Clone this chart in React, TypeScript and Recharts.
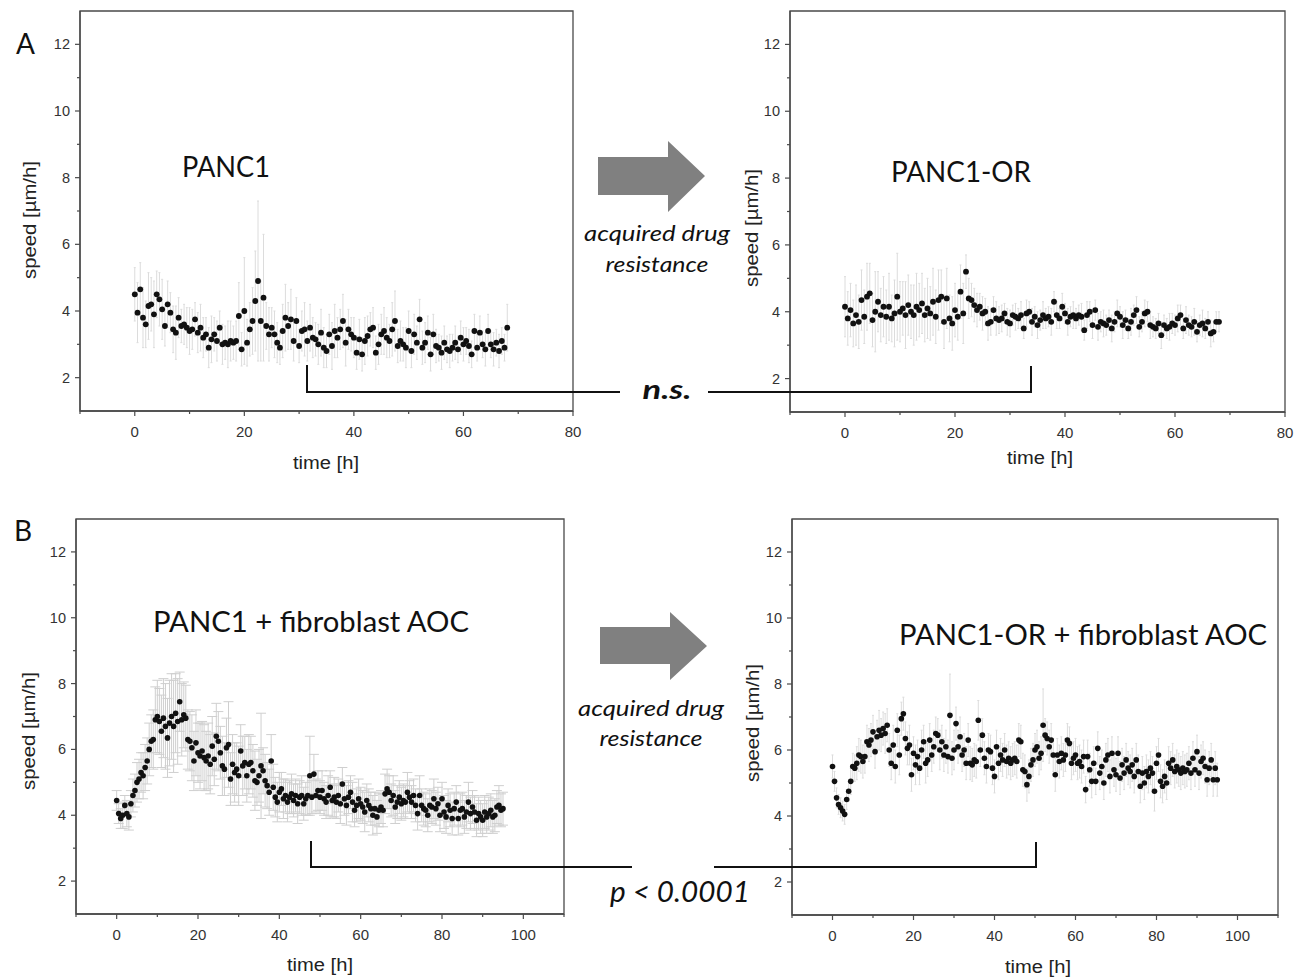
import React from 'react';
import { ScatterChart, Scatter, XAxis, YAxis, ErrorBar, ReferenceArea } from 'recharts';

// sampling interval of the time-lapse (hours)
const STEP_H = 0.5;

// ---- Panel A, left: PANC1 (t = 0 … 68 h) ----
const panc1Speed = [
  4.5, 3.95, 4.65, 3.8, 3.6, 4.15, 4.2, 3.9, 4.5, 4.35,
  4.05, 3.55, 4.2, 3.95, 3.45, 3.35, 3.8, 3.55, 3.6, 3.5,
  3.4, 3.45, 3.75, 3.35, 3.5, 3.2, 3.3, 2.9, 3.15, 3.3,
  3.1, 3.5, 3.0, 3.05, 3.0, 3.1, 3.05, 3.1, 3.85, 2.85,
  4.0, 3.05, 3.45, 3.7, 4.3, 4.9, 3.7, 4.4, 3.55, 3.3,
  3.5, 3.3, 3.05, 2.9, 3.4, 3.8, 3.55, 3.75, 3.1, 3.7,
  2.95, 3.4, 3.45, 3.1, 3.5, 3.2, 3.15, 3.0, 3.35, 2.9,
  2.8, 3.3, 2.95, 3.4, 3.2, 3.45, 3.7, 3.05, 3.45, 3.3,
  3.2, 2.75, 3.15, 2.7, 3.1, 3.25, 3.45, 3.5, 2.75, 3.0,
  3.3, 3.4, 3.2, 3.1, 3.45, 3.7, 2.95, 3.1, 3.0, 2.9,
  3.4, 2.8, 3.3, 3.05, 3.75, 2.9, 3.05, 3.35, 2.7, 3.3,
  2.95, 2.9, 2.75, 3.05, 2.85, 2.8, 2.9, 3.05, 2.85, 3.2,
  3.0, 3.1, 2.95, 2.7, 3.4, 2.9, 3.35, 3.0, 2.85, 3.4,
  3.0, 2.85, 3.05, 2.8, 3.1, 2.9, 3.5,
];
const panc1Err = [
  0.8, 0.9, 0.8, 0.9, 0.7, 1.0, 0.8, 1.0, 0.7, 0.8,
  0.9, 0.6, 0.7, 0.6, 0.7, 0.8, 0.6, 0.5, 0.6, 0.6,
  0.7, 0.6, 0.5, 0.6, 0.7, 0.6, 0.5, 0.6, 0.7, 0.5,
  0.6, 0.5, 0.6, 0.5, 0.7, 0.6, 0.5, 0.6, 1.0, 0.5,
  1.6, 0.7, 0.8, 1.0, 1.5, 2.4, 1.2, 1.9, 0.7, 0.8,
  0.6, 0.7, 0.6, 0.5, 0.8, 1.0, 0.7, 0.9, 0.6, 0.7,
  0.5, 0.6, 0.8, 0.6, 0.7, 0.6, 0.5, 0.6, 0.7, 0.6,
  0.5, 0.6, 0.7, 0.8, 0.6, 0.6, 0.8, 0.7, 0.6, 0.5,
  0.6, 0.5, 0.6, 0.5, 0.7, 0.6, 0.5, 0.6, 0.5, 0.6,
  0.6, 0.7, 0.6, 0.5, 0.8, 0.9, 0.5, 0.6, 0.5, 0.6,
  0.6, 0.5, 0.6, 0.5, 0.6, 0.5, 0.6, 0.5, 0.5, 0.6,
  0.5, 0.4, 0.5, 0.5, 0.4, 0.5, 0.4, 0.5, 0.4, 0.5,
  0.5, 0.4, 0.5, 0.4, 0.5, 0.4, 0.5, 0.4, 0.5, 0.5,
  0.4, 0.5, 0.4, 0.5, 0.4, 0.4, 0.7,
];

// ---- Panel A, right: PANC1-OR (t = 0 … 68 h) ----
const panc1orSpeed = [
  4.15, 3.8, 4.05, 3.65, 3.9, 3.7, 4.35, 3.85, 4.45, 4.55,
  3.75, 4.0, 4.3, 3.9, 4.15, 3.85, 4.15, 3.8, 3.95, 4.45,
  4.0, 4.1, 3.9, 4.2, 4.0, 3.9, 4.15, 4.05, 4.25, 3.9,
  4.1, 3.95, 4.3, 3.85, 4.35, 4.45, 3.7, 4.4, 3.8, 3.65,
  4.05, 3.85, 4.6, 3.95, 5.2, 4.4, 4.35, 4.2, 4.05, 4.15,
  3.95, 4.0, 3.65, 3.7, 4.05, 3.8, 3.75, 3.8, 3.95, 3.7,
  3.65, 3.9, 3.85, 3.8, 3.9, 3.5, 3.95, 4.0, 3.7, 3.85,
  3.6, 3.75, 3.9, 3.8, 3.85, 3.7, 4.3, 3.9, 3.8, 4.15,
  3.95, 3.7, 3.85, 3.9, 3.8, 3.9, 3.85, 3.45, 3.9, 4.0,
  3.6, 4.05, 3.55, 3.7, 3.65, 3.6, 3.75, 3.5, 3.7, 3.95,
  3.85, 3.6, 3.75, 3.5, 3.7, 3.9, 4.05, 3.55, 3.7, 3.95,
  4.0, 3.6, 3.55, 3.5, 3.65, 3.3, 3.6, 3.5, 3.55, 3.65,
  3.6, 3.8, 3.9, 3.5, 3.75, 3.6, 3.55, 3.7, 3.4, 3.6,
  3.65, 3.5, 3.7, 3.35, 3.4, 3.7, 3.7,
];
const panc1orErr = [
  0.9, 0.8, 0.8, 0.7, 0.9, 0.8, 0.9, 0.8, 1.0, 0.9,
  0.8, 1.2, 0.9, 0.8, 0.9, 0.8, 1.0, 0.7, 1.0, 1.3,
  0.9, 0.8, 1.0, 0.9, 0.8, 0.9, 1.0, 0.8, 0.9, 0.8,
  0.9, 0.8, 1.0, 0.8, 0.9, 0.8, 0.8, 0.9, 0.7, 0.8,
  0.8, 0.7, 0.8, 0.9, 0.5, 0.6, 0.5, 0.5, 0.5, 0.4,
  0.5, 0.4, 0.5, 0.4, 0.4, 0.5, 0.4, 0.4, 0.3, 0.4,
  0.4, 0.3, 0.4, 0.3, 0.4, 0.3, 0.4, 0.3, 0.4, 0.3,
  0.4, 0.3, 0.4, 0.3, 0.3, 0.4, 0.3, 0.4, 0.3, 0.4,
  0.3, 0.4, 0.3, 0.4, 0.3, 0.3, 0.4, 0.3, 0.4, 0.3,
  0.4, 0.3, 0.4, 0.3, 0.4, 0.3, 0.3, 0.4, 0.3, 0.4,
  0.3, 0.4, 0.3, 0.3, 0.4, 0.3, 0.4, 0.3, 0.3, 0.4,
  0.3, 0.4, 0.3, 0.3, 0.3, 0.4, 0.3, 0.3, 0.4, 0.3,
  0.3, 0.4, 0.3, 0.3, 0.4, 0.3, 0.3, 0.4, 0.3, 0.3,
  0.4, 0.3, 0.3, 0.4, 0.3, 0.3, 0.3,
];

// ---- Panel B, left: PANC1 + fibroblast AOC (t = 0 … 95 h) ----
const panc1AocSpeed = [
  4.45, 4.05, 3.9, 4.0, 4.3, 4.05, 3.95, 4.35, 4.6, 4.75,
  5.0, 5.1, 5.3, 5.2, 5.45, 5.65, 6.0, 6.25, 6.3, 6.9,
  7.0, 6.85, 6.55, 6.95, 6.7, 6.35, 6.8, 7.0, 6.7, 7.1,
  6.85, 7.45, 6.9, 7.05, 6.95, 6.3, 6.25, 6.05, 5.65, 6.2,
  5.9, 5.8, 5.95, 5.75, 5.65, 5.8, 5.55, 6.1, 5.7, 6.4,
  6.25, 5.9, 5.5, 5.4, 6.05, 6.15, 5.1, 5.55, 5.3, 5.4,
  5.2, 5.95, 5.5, 5.6, 5.2, 5.55, 5.6, 5.35, 5.05, 5.0,
  5.2, 5.5, 5.35, 5.05, 4.9, 4.7, 5.65, 4.85, 4.55, 4.4,
  4.7, 4.8, 4.5, 4.6, 4.4, 4.55, 4.65, 4.45, 4.6, 4.35,
  4.55, 4.6, 4.35, 4.5, 4.6, 5.2, 4.55, 5.25, 4.6, 4.75,
  4.55, 4.75, 4.5, 4.4, 4.6, 4.85, 4.45, 4.55, 4.4, 4.6,
  4.35, 4.95, 4.5, 4.3, 4.55, 4.7, 4.4, 4.15, 4.3, 4.5,
  4.35, 4.25, 4.1, 4.45, 4.3, 4.2, 4.0, 4.2, 3.95, 4.15,
  4.25, 4.15, 4.65, 4.8, 4.7, 4.45, 4.6, 4.25, 4.4, 4.55,
  4.35, 4.45, 4.4, 4.7, 4.55, 4.4, 4.6, 4.3, 4.05, 4.6,
  4.3, 4.2, 4.15, 4.0, 4.3, 4.25, 4.5, 4.2, 4.35, 4.0,
  4.5, 4.1, 3.95, 4.3, 4.15, 3.9, 4.2, 4.4, 3.9, 4.15,
  4.2, 3.95, 4.1, 4.4, 4.05, 4.25, 4.1, 3.85, 4.05, 3.95,
  3.85, 4.1, 3.95, 4.05, 4.15, 3.95, 4.0, 4.25, 4.3, 4.15,
  4.2,
];
const panc1AocErr = [
  0.3, 0.3, 0.3, 0.4, 0.3, 0.4, 0.4, 0.4, 0.5, 0.5,
  0.6, 0.6, 0.6, 0.7, 0.7, 0.7, 0.8, 0.8, 0.9, 1.0,
  1.1, 1.0, 1.1, 1.2, 1.3, 1.2, 1.3, 1.3, 1.4, 1.2,
  1.3, 0.9, 1.1, 1.0, 1.0, 0.9, 0.9, 1.0, 0.9, 1.0,
  0.9, 1.0, 0.9, 1.0, 0.9, 1.0, 0.9, 0.9, 0.8, 1.0,
  0.9, 0.8, 0.9, 0.8, 0.9, 1.3, 0.8, 0.9, 0.9, 0.8,
  0.9, 0.8, 0.9, 0.8, 0.8, 0.9, 0.8, 0.8, 0.9, 0.7,
  0.8, 1.6, 0.7, 0.8, 0.7, 0.7, 0.8, 0.7, 0.6, 0.6,
  0.6, 0.5, 0.6, 0.5, 0.6, 0.5, 0.6, 0.5, 0.5, 0.6,
  0.5, 0.6, 0.5, 0.5, 0.6, 1.2, 0.5, 0.6, 0.5, 0.6,
  0.5, 0.6, 0.5, 0.5, 0.6, 0.5, 0.5, 0.6, 0.5, 0.5,
  0.6, 0.5, 0.5, 0.6, 0.5, 0.5, 0.6, 0.5, 0.5, 0.6,
  0.5, 0.5, 0.6, 0.5, 0.5, 0.5, 0.6, 0.5, 0.5, 0.5,
  0.5, 0.5, 0.6, 0.6, 0.5, 0.5, 0.6, 0.5, 0.5, 0.5,
  0.5, 0.5, 0.5, 0.6, 0.5, 0.5, 0.5, 0.5, 0.5, 0.6,
  0.5, 0.5, 0.5, 0.5, 0.5, 0.5, 0.6, 0.5, 0.5, 0.5,
  0.5, 0.5, 0.5, 0.5, 0.5, 0.5, 0.5, 0.5, 0.5, 0.5,
  0.5, 0.5, 0.5, 0.6, 0.5, 0.5, 0.5, 0.5, 0.5, 0.5,
  0.5, 0.5, 0.5, 0.5, 0.5, 0.5, 0.5, 0.5, 0.6, 0.5,
  0.5,
];

// ---- Panel B, right: PANC1-OR + fibroblast AOC (t = 0 … 95 h) ----
const panc1orAocSpeed = [
  5.5, 5.05, 4.55, 4.35, 4.25, 4.15, 4.05, 4.5, 4.75, 5.05,
  5.5, 5.45, 5.6, 5.85, 5.8, 5.65, 5.8, 6.25, 6.15, 6.3,
  6.55, 5.95, 6.4, 6.6, 6.45, 6.65, 6.5, 6.75, 6.0, 5.6,
  6.15, 5.5, 6.6, 5.85, 6.95, 7.1, 6.35, 6.05, 6.15, 5.25,
  5.9, 5.55, 5.8, 5.45, 6.0, 6.25, 5.6, 5.7, 6.3, 5.85,
  6.1, 6.5, 6.45, 6.0, 6.25, 5.85, 6.1, 5.8, 7.05, 5.75,
  6.0, 6.8, 6.1, 6.4, 5.85, 6.0, 5.6, 6.3, 5.6, 5.55,
  5.7, 5.65, 6.9, 6.0, 6.45, 5.75, 5.5, 6.0, 5.95, 5.45,
  5.2, 6.1, 5.6, 5.85, 5.7, 6.0, 5.65, 5.75, 5.6, 5.7,
  5.75, 5.65, 6.3, 6.25, 5.4, 5.35, 4.95, 5.2, 5.55, 5.7,
  6.0, 6.1, 5.75, 5.9, 6.75, 6.45, 6.35, 6.1, 6.3, 5.85,
  5.25, 5.85, 5.65, 5.9, 5.7, 5.85, 6.3, 6.2, 5.6, 5.75,
  5.85, 5.6, 5.65, 5.5, 5.8, 4.8, 5.8, 5.4, 5.05, 5.6,
  5.05, 6.05, 5.3, 5.5, 5.0, 5.7, 5.85, 5.2, 5.9, 5.4,
  5.25, 5.9, 5.15, 5.55, 5.3, 5.7, 5.45, 5.35, 5.55, 5.2,
  5.7, 5.35, 4.9, 5.3, 5.0, 5.35, 5.2, 5.45, 5.3, 4.75,
  5.6, 5.85, 5.05, 4.9, 5.2, 5.0, 5.6, 5.45, 5.7, 5.35,
  5.5, 5.4, 5.3, 5.45, 5.35, 5.4, 5.6, 5.3, 5.75, 5.4,
  5.95, 5.3, 5.65, 5.75, 5.5, 5.1, 5.45, 5.7, 5.1, 5.45,
  5.1,
];
const panc1orAocErr = [
  0.35, 0.3, 0.3, 0.3, 0.3, 0.3, 0.3, 0.3, 0.3, 0.4,
  0.4, 0.4, 0.5, 0.5, 0.5, 0.5, 0.5, 0.5, 0.5, 0.5,
  0.5, 0.5, 0.5, 0.6, 0.5, 0.5, 0.6, 0.5, 0.5, 0.5,
  0.6, 0.5, 0.5, 0.6, 0.5, 0.5, 0.5, 0.5, 0.6, 0.5,
  0.5, 0.6, 0.5, 0.5, 0.6, 0.5, 0.6, 0.5, 0.5, 0.5,
  0.5, 0.5, 0.5, 0.6, 0.5, 0.5, 0.5, 0.5, 1.25, 0.5,
  0.6, 0.5, 0.5, 0.6, 0.5, 0.5, 0.5, 0.5, 0.5, 0.5,
  0.5, 0.5, 0.6, 0.5, 0.5, 0.5, 0.5, 0.5, 0.5, 0.5,
  0.5, 0.5, 0.5, 0.5, 0.5, 0.5, 0.5, 0.5, 0.5, 0.5,
  0.5, 0.5, 0.5, 0.5, 0.5, 0.5, 0.5, 0.5, 0.5, 0.5,
  0.5, 0.5, 0.5, 0.5, 1.1, 0.5, 0.5, 0.5, 0.5, 0.5,
  0.5, 0.5, 0.5, 0.5, 0.5, 0.5, 0.5, 0.5, 0.5, 0.5,
  0.5, 0.5, 0.5, 0.5, 0.5, 0.4, 0.5, 0.5, 0.5, 0.5,
  0.4, 0.5, 0.5, 0.5, 0.5, 0.5, 0.5, 0.5, 0.5, 0.5,
  0.5, 0.5, 0.5, 0.5, 0.5, 0.5, 0.5, 0.5, 0.5, 0.5,
  0.5, 0.5, 0.5, 0.5, 0.5, 0.5, 0.5, 0.5, 0.5, 0.6,
  0.5, 0.5, 0.5, 0.5, 0.5, 0.5, 0.5, 0.5, 0.5, 0.5,
  0.5, 0.5, 0.5, 0.5, 0.5, 0.5, 0.5, 0.5, 0.5, 0.5,
  0.5, 0.5, 0.5, 0.5, 0.5, 0.5, 0.5, 0.5, 0.5, 0.5,
  0.5,
];

// ---- axes ----
const xTicksA = [-10, 0, 10, 20, 30, 40, 50, 60, 70, 80];
const xLabelsA = [0, 20, 40, 60, 80];
const xTicksB = [-10, 0, 10, 20, 30, 40, 50, 60, 70, 80, 90, 100, 110];
const xLabelsB = [0, 20, 40, 60, 80, 100];
const yTicks = [2, 3, 4, 5, 6, 7, 8, 9, 10, 11, 12];
const yLabels = [2, 4, 6, 8, 10, 12];
const yDomain: [number, number] = [1, 13];

// ---- text ----
const titles = {
  a1: 'PANC1',
  a2: 'PANC1-OR',
  b1: 'PANC1 + fibroblast AOC',
  b2: 'PANC1-OR + fibroblast AOC',
};
const yAxisTitle = 'speed [µm/h]';
const xAxisTitle = 'time [h]';

const toPoints = (vals: number[], errs: number[]) =>
  vals.map((v, i) => ({ t: i * STEP_H, v, e: errs[i] }));

const AXIS = '#4a4a4a';
const TICK_FONT = '"Liberation Sans", Arial, sans-serif';
const TITLE_FONT = 'Lato, "Open Sans", sans-serif';

const ML = 10, YW = 50, MT = 10, MR = 20, XH = 40, MB = 10;

function XTick(props: any) {
  const { x, payload, labels, axisY } = props;
  const v = payload.value;
  const major = labels.includes(v);
  return (
    <g>
      <line x1={x} x2={x} y1={axisY} y2={axisY + (major ? 5 : 3)} stroke={AXIS} strokeWidth={1.2} />
      {major && (
        <text x={x} y={axisY + 15} dy="0.71em" textAnchor="middle" fontFamily={TICK_FONT} fontSize={15} fill="#333">
          {v}
        </text>
      )}
    </g>
  );
}

function YTick(props: any) {
  const { y, payload, labels, axisX } = props;
  const v = payload.value;
  const major = labels.includes(v);
  return (
    <g>
      <line x1={axisX} x2={axisX - (major ? 5 : 3)} y1={y} y2={y} stroke={AXIS} strokeWidth={1.2} />
      {major && (
        <text x={axisX - 10} y={y} dy="0.35em" textAnchor="end" fontFamily={TICK_FONT} fontSize={14.5} fill="#333">
          {v}
        </text>
      )}
    </g>
  );
}

type PanelProps = {
  left: number; top: number; plotW: number; plotH: number;
  data: { t: number; v: number; e: number }[];
  xDomain: [number, number]; xTicks: number[]; xLabels: number[];
  errWidth: number; dotR: number; errColor: string;
};

function Panel({ left, top, plotW, plotH, data, xDomain, xTicks, xLabels, errWidth, dotR, errColor }: PanelProps) {
  const W = ML + YW + plotW + MR;
  const H = MT + plotH + XH + MB;
  const axisY = MT + plotH;
  const axisX = ML + YW;
  return (
    <div style={{ position: 'absolute', left: left - ML - YW, top: top - MT, width: W, height: H }}>
      <ScatterChart width={W} height={H} margin={{ top: MT, right: MR, bottom: MB, left: ML }}>
        <XAxis
          type="number" dataKey="t" domain={xDomain} ticks={xTicks} interval={0} allowDataOverflow
          height={XH} axisLine={{ stroke: AXIS, strokeWidth: 1.3 }} tickLine={false}
          tick={<XTick labels={xLabels} axisY={axisY} />}
        />
        <YAxis
          type="number" dataKey="v" domain={yDomain} ticks={yTicks} interval={0} allowDataOverflow
          width={YW} axisLine={{ stroke: AXIS, strokeWidth: 1.3 }} tickLine={false}
          tick={<YTick labels={yLabels} axisX={axisX} />}
        />
        <ReferenceArea
          x1={xDomain[0]} x2={xDomain[1]} y1={yDomain[0]} y2={yDomain[1]}
          fill="none" fillOpacity={0} stroke={AXIS} strokeWidth={1.3} ifOverflow="visible"
        />
        <Scatter
          data={data}
          isAnimationActive={false}
          shape={(p: any) => <circle cx={p.cx} cy={p.cy} r={dotR} fill="#111" />}
        >
          <ErrorBar dataKey="e" direction="y" width={errWidth} stroke={errColor} strokeWidth={1} />
        </Scatter>
      </ScatterChart>
    </div>
  );
}

export default function App() {
  return (
    <div style={{ position: 'absolute', left: 0, top: 0, width: 1306, height: 977, background: '#fff', overflow: 'hidden' }}>
      <Panel left={80} top={11} plotW={493} plotH={400} data={toPoints(panc1Speed, panc1Err)}
        xDomain={[-10, 80]} xTicks={xTicksA} xLabels={xLabelsA} errWidth={1} dotR={2.9} errColor="#dcdcdc" />
      <Panel left={790} top={11} plotW={495} plotH={401} data={toPoints(panc1orSpeed, panc1orErr)}
        xDomain={[-10, 80]} xTicks={xTicksA} xLabels={xLabelsA} errWidth={1} dotR={2.9} errColor="#dcdcdc" />
      <Panel left={76} top={519} plotW={488} plotH={395} data={toPoints(panc1AocSpeed, panc1AocErr)}
        xDomain={[-10, 110]} xTicks={xTicksB} xLabels={xLabelsB} errWidth={5} dotR={2.8} errColor="#cfcfcf" />
      <Panel left={792} top={519} plotW={486} plotH={396} data={toPoints(panc1orAocSpeed, panc1orAocErr)}
        xDomain={[-10, 110]} xTicks={xTicksB} xLabels={xLabelsB} errWidth={1} dotR={2.8} errColor="#dcdcdc" />

      <svg width={1306} height={977} style={{ position: 'absolute', left: 0, top: 0, pointerEvents: 'none' }}>
        {/* panel letters */}
        <text x={16} y={54} fontFamily={TITLE_FONT} fontSize={28} fill="#111">A</text>
        <text x={14} y={541} fontFamily={TITLE_FONT} fontSize={28} fill="#111">B</text>

        {/* panel titles */}
        <text x={182} y={177} fontFamily={TITLE_FONT} fontSize={28} fill="#111" textLength={88} lengthAdjust="spacingAndGlyphs">{titles.a1}</text>
        <text x={891} y={182} fontFamily={TITLE_FONT} fontSize={28} fill="#111" textLength={140} lengthAdjust="spacingAndGlyphs">{titles.a2}</text>
        <text x={153} y={632} fontFamily={TITLE_FONT} fontSize={28} fill="#111" textLength={316} lengthAdjust="spacingAndGlyphs">{titles.b1}</text>
        <text x={899} y={645} fontFamily={TITLE_FONT} fontSize={28} fill="#111" textLength={368} lengthAdjust="spacingAndGlyphs">{titles.b2}</text>

        {/* axis titles */}
        {[
          [30, 220], [752, 228], [29, 731], [753, 723],
        ].map(([x, y], i) => (
          <text key={'yt' + i} x={x} y={y} transform={`rotate(-90 ${x} ${y})`} textAnchor="middle" dominantBaseline="central"
            fontFamily={TICK_FONT} fontSize={18} fill="#222" textLength={118} lengthAdjust="spacingAndGlyphs">{yAxisTitle}</text>
        ))}
        {[
          [326, 463], [1040, 458], [320, 965], [1038, 967],
        ].map(([x, y], i) => (
          <text key={'xt' + i} x={x} y={y} textAnchor="middle" dominantBaseline="central"
            fontFamily={TICK_FONT} fontSize={18} fill="#222" textLength={66} lengthAdjust="spacingAndGlyphs">{xAxisTitle}</text>
        ))}

        {/* arrows */}
        <polygon points="598,157 668,157 668,141 705,176 668,212 668,195 598,195" fill="#808080" />
        <polygon points="600,627 670,627 670,612 707,646 670,680 670,664 600,664" fill="#808080" />

        {/* arrow captions */}
        <text x={657} y={241} textAnchor="middle" fontFamily={TITLE_FONT} fontStyle="italic" fontSize={22} fill="#111" textLength={146} lengthAdjust="spacingAndGlyphs">acquired drug</text>
        <text x={657} y={272} textAnchor="middle" fontFamily={TITLE_FONT} fontStyle="italic" fontSize={22} fill="#111" textLength={103} lengthAdjust="spacingAndGlyphs">resistance</text>
        <text x={651} y={716} textAnchor="middle" fontFamily={TITLE_FONT} fontStyle="italic" fontSize={22} fill="#111" textLength={146} lengthAdjust="spacingAndGlyphs">acquired drug</text>
        <text x={651} y={746} textAnchor="middle" fontFamily={TITLE_FONT} fontStyle="italic" fontSize={22} fill="#111" textLength={103} lengthAdjust="spacingAndGlyphs">resistance</text>

        {/* significance brackets */}
        <polyline points="307,365 307,392 620,392" fill="none" stroke="#111" strokeWidth={2} />
        <polyline points="708,392 1031,392 1031,366" fill="none" stroke="#111" strokeWidth={2} />
        <text x={667} y={399} textAnchor="middle" fontFamily={TITLE_FONT} fontStyle="italic" fontWeight="bold" fontSize={26} fill="#111" textLength={49} lengthAdjust="spacingAndGlyphs">n.s.</text>

        <polyline points="311,841 311,867 632,867" fill="none" stroke="#111" strokeWidth={2} />
        <polyline points="714,867 1036,867 1036,842" fill="none" stroke="#111" strokeWidth={2} />
        <text x={680} y={902} textAnchor="middle" fontFamily={TITLE_FONT} fontStyle="italic" fontSize={28} fill="#111" textLength={140} lengthAdjust="spacingAndGlyphs">p &lt; 0.0001</text>
      </svg>
    </div>
  );
}
